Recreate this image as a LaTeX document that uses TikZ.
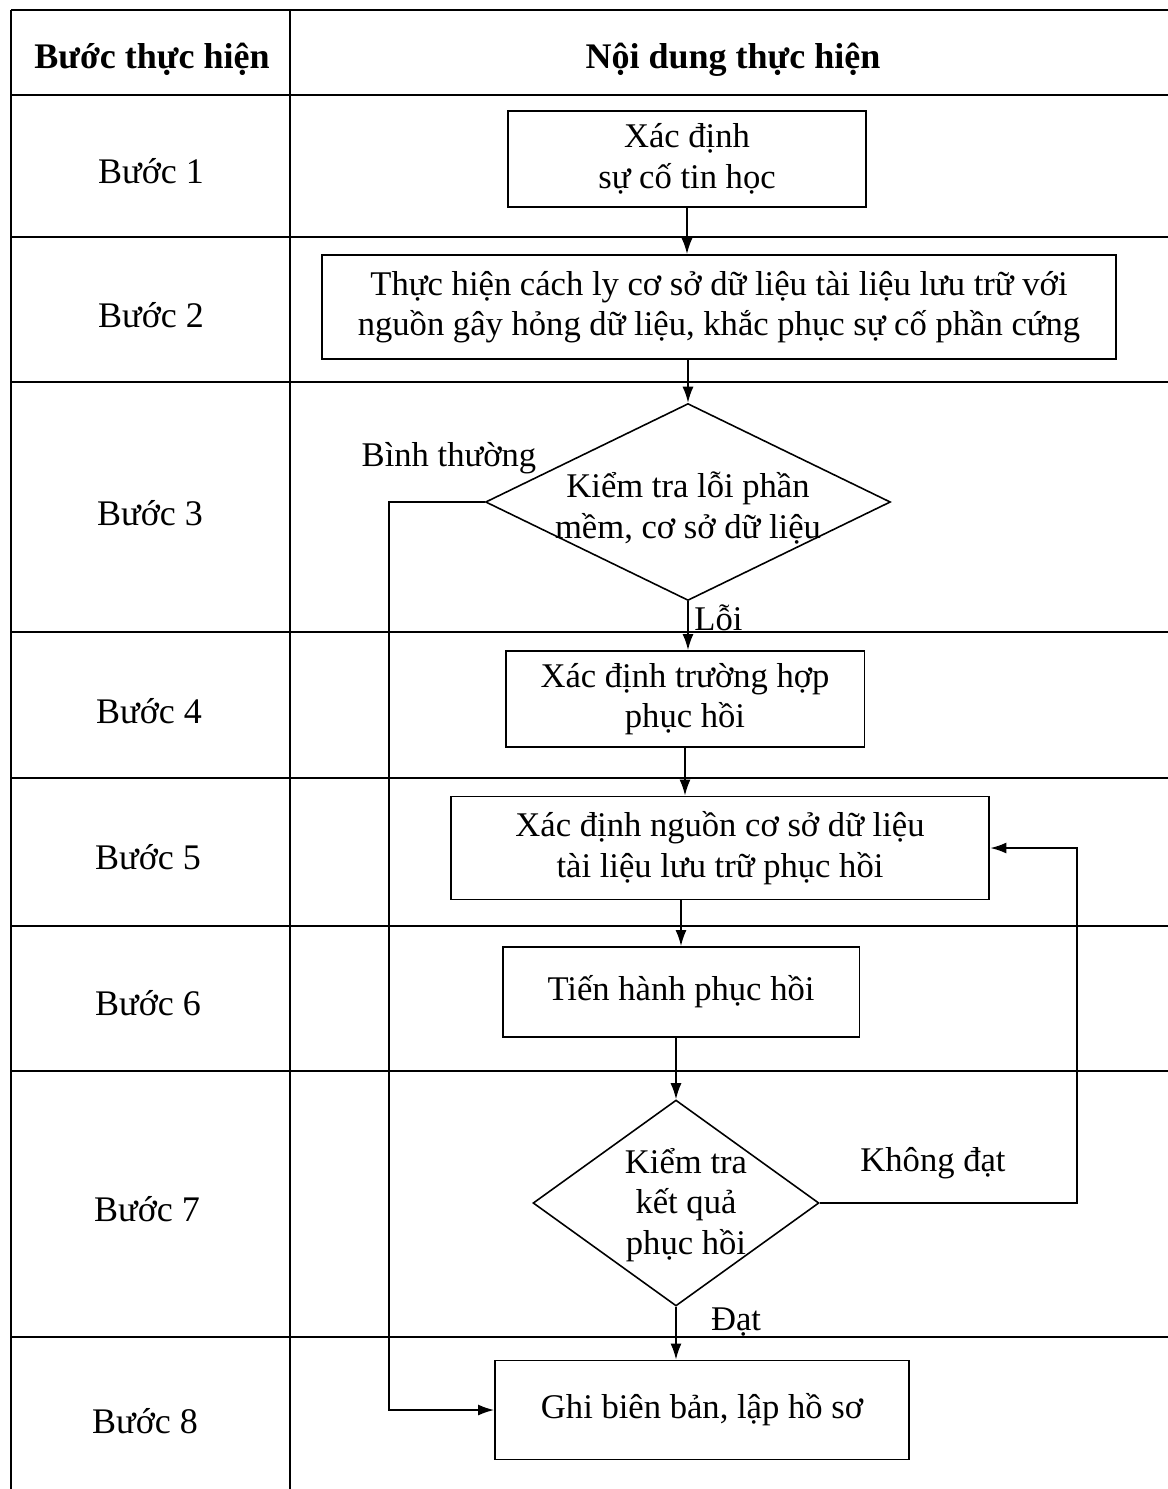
\documentclass[tikz,border=0pt]{standalone}
\usepackage{fontspec}
\setmainfont{Liberation Serif}
\usetikzlibrary{shapes.geometric,arrows.meta}
\newcommand{\flowsize}{\fontsize{20.5}{23}\selectfont}
\newcommand{\boxsize}{\fontsize{19.7}{23}\selectfont}

\begin{document}
\begin{tikzpicture}[x=0.02cm,y=-0.02cm,
  font=\flowsize,
  rule/.style={line width=0.6pt},
  box/.style={draw,line width=1.1pt,align=center,inner sep=0pt,font=\boxsize},
  decision/.style={draw,diamond,line width=0.9pt,inner sep=0pt},
  flow/.style={-{Latex[length=3.2mm,width=2.2mm]},line width=0.9pt},
  tag/.style={font=\boxsize},
  head/.style={anchor=base,font=\flowsize\bfseries}]

\useasboundingbox (0,0) rectangle (1168,1489);

% khung bang
\foreach \y in {10,95,237,382,632,778,926,1071,1337}
  \draw[rule] (11,\y) -- (1168,\y);
\draw[rule] (11,10) -- (11,1489);
\draw[rule] (290,10) -- (290,1489);

\node[head] (hstep) at (152,68) {Bước thực hiện};
\node[head] (hcontent) at (733,68) {Nội dung thực hiện};

\foreach \n/\x/\y in {1/151/183,2/151/327,3/150/525,4/149/723,5/148/869,6/148/1015,7/147/1221,8/145/1433}
  \node[anchor=base] (s\n) at (\x,\y) {Bước \n};

% cac buoc
\node[box,minimum width=7.16cm,minimum height=1.92cm] (b1) at (687,159) {Xác định\\sự cố tin học};
\node[box,minimum width=15.88cm,minimum height=2.08cm] (b2) at (719,307) {Thực hiện cách ly cơ sở dữ liệu tài liệu lưu trữ với\\nguồn gây hỏng dữ liệu, khắc phục sự cố phần cứng};
\node[decision,minimum width=8.1cm,minimum height=3.94cm] (d1) at (688,502) {};
\node[tag,align=center] (d1t) at (688,508) {Kiểm tra lỗi phần\\mềm, cơ sở dữ liệu};
\node[box,minimum width=7.18cm,minimum height=1.92cm] (b4) at (685,699) {Xác định trường hợp\\phục hồi};
\node[box,minimum width=10.78cm,minimum height=2.06cm] (b5) at (720,848) {Xác định nguồn cơ sở dữ liệu\\tài liệu lưu trữ phục hồi};
\node[box,minimum width=7.14cm,minimum height=1.8cm] (b6) at (681,992) {Tiến hành phục hồi};
\node[decision,minimum width=5.72cm,minimum height=4.12cm] (d2) at (676,1203) {};
\node[tag,align=center] (d2t) at (686,1205) {Kiểm tra\\kết quả\\phục hồi};
\node[box,minimum width=8.28cm,minimum height=1.98cm] (b8) at (702,1410) {Ghi biên bản, lập hồ sơ};

\coordinate (bypass) at (389,0);
\coordinate (loop) at (1077,0);

% mui ten
\draw[flow] (b1.south) -- (b1.south |- b2.north);
\draw[flow] (d1.north |- b2.south) -- (d1.north);
\draw[flow] (d1.south) -- (d1.south |- b4.north);
\draw[flow] (b4.south) -- (b4.south |- b5.north);
\draw[flow] (b6.north |- b5.south) -- (b6.north);
\draw[flow] (d2.north |- b6.south) -- (d2.north);
\draw[flow] (d2.south) -- (d2.south |- b8.north);
\draw[flow] (d1.west) -- (d1.west -| bypass) |- (b8.west);
\draw[flow] (d2.east) -- (d2.east -| loop) |- (b5.east);

\node[tag] (lnormal) at (449,458) {Bình thường};
\node[tag,anchor=west,inner sep=0pt] (lerror) at (694,618) {Lỗi};
\node[tag] (lfail) at (933,1163) {Không đạt};
\node[tag] (lpass) at (736,1322) {Đạt};
\end{tikzpicture}
\end{document}
